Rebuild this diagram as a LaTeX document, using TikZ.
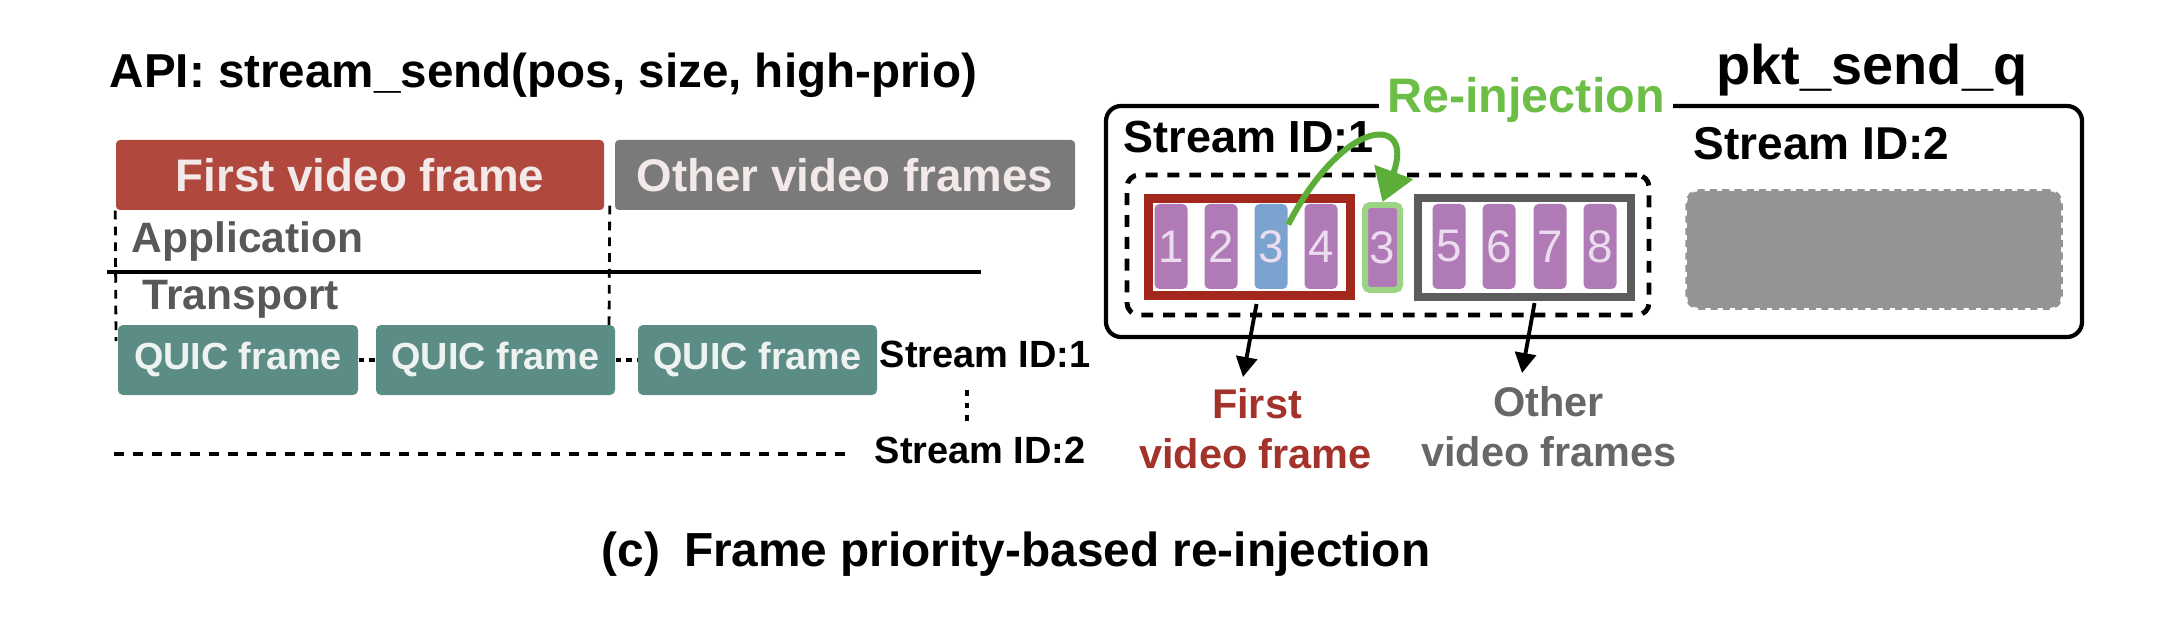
\documentclass[tikz,border=0pt]{standalone}
\usepackage{fontspec}
\setmainfont{Liberation Sans}
\usetikzlibrary{arrows.meta,calc}
\definecolor{redbox}{HTML}{B0483E}
\definecolor{graybox}{HTML}{7A7A7A}
\definecolor{boxtxt}{HTML}{F3E9E9}
\definecolor{apptxt}{HTML}{585858}
\definecolor{quic}{HTML}{5B8C86}
\definecolor{quictxt}{HTML}{EEF3F1}
\definecolor{darkred}{HTML}{A2281E}
\definecolor{darkgray}{HTML}{5C5C5C}
\definecolor{pkt}{HTML}{B07AB7}
\definecolor{pktblue}{HTML}{7BA3CF}
\definecolor{pkttxt}{HTML}{EBDDEF}
\definecolor{reinj}{HTML}{6DBE46}
\definecolor{arrowgreen}{HTML}{5DAE38}
\definecolor{lightgreen}{HTML}{9AD484}
\definecolor{blob}{HTML}{949494}
\definecolor{firstred}{HTML}{A3322A}
\definecolor{othergray}{HTML}{676767}
\newcommand{\fsz}[1]{\fontsize{#1pt}{#1pt}\selectfont}
\tikzset{
  txt/.style={inner sep=0pt, anchor=base west},
  vbox/.style={rounded corners=0.4mm, inner sep=0pt, minimum height=7mm, text=boxtxt, font=\bfseries\fsz{13}},
  qbox/.style={rounded corners=0.5mm, fill=quic, inner sep=0pt, minimum height=7mm, text=quictxt, font=\bfseries\fsz{10.75}},
  lay/.style={txt, text=apptxt, font=\bfseries\fsz{12.1}},
  vdash/.style={line width=0.8pt, dash pattern=on 2.5pt off 2pt},
  qdot/.style={line width=1.1pt, dash pattern=on 1.5pt off 1.5pt},
  sdot/.style={line width=1.1pt, dash pattern=on 2.8pt off 2.6pt},
  pktn/.style={fill=pkt, rounded corners=0.5mm, minimum width=3.3mm, minimum height=8.5mm, inner sep=0pt, text=pkttxt, font=\fsz{13}},
  lbl/.style={inner sep=0pt, anchor=base, font=\bfseries\fsz{11.8}},
  blk/.style={line width=1.1pt, -{Triangle[length=2mm,width=2.1mm]}},
}
\begin{document}
\begin{tikzpicture}[x=0.1mm,y=-0.1mm]
\useasboundingbox (0,0) rectangle (2170,632);
% ---------- left part
\node[txt, font=\bfseries\fsz{13.54}] (api) at (109,88) {API: stream\_send(pos, size, high-prio)};
\node[vbox, fill=redbox, minimum width=48.8mm] (fvf) at (360,175) {First video frame};
\node[vbox, fill=graybox, minimum width=46mm] (ovf) at (845,175) {Other video frames};
\coordinate (dl) at (116,341);
\coordinate (dr) at (609,333);
\draw[vdash] (fvf.south west) -- (dl);
\draw[vdash] ($(fvf.south east)+(5,-5)$) -- (dr);
\node[lay] (app) at (131,253) {Application};
\coordinate (hl) at (107,272);
\coordinate (hr) at (981,272);
\draw[line width=1.2pt] (hl) -- (hr);
\node[lay] (tra) at (142,310) {Transport};
\node[qbox, minimum width=24mm] (q1) at (238,360) {QUIC frame};
\node[qbox, minimum width=23.9mm] (q2) at (495.5,360) {QUIC frame};
\node[qbox, minimum width=23.9mm] (q3) at (757.5,360) {QUIC frame};
\draw[qdot] (q1) -- (q2);
\draw[qdot] (q2) -- (q3);
\node[txt, font=\bfseries\fsz{10.8}] (s1) at (879,368) {Stream ID:1};
\coordinate (vd1) at (967,390);
\coordinate (vd2) at (967,424);
\draw[line width=1.1pt, dash pattern=on 1.6pt off 2pt] (vd1) -- (vd2);
\node[txt, font=\bfseries\fsz{10.8}] (s2) at (874,463) {Stream ID:2};
\coordinate (sl) at (114,454);
\coordinate (sr) at (846,454);
\draw[sdot] (sl) -- (sr);
% ---------- right part
\node[draw, line width=1.2pt, rounded corners=1.5mm, minimum width=97.6mm, minimum height=23.1mm, inner sep=0pt] (queue) at (1594,221.5) {};
\node[inner sep=0.8mm, fill=white, anchor=base, text=reinj, font=\bfseries\fsz{13.8}] (re) at (1526,113) {Re-injection};
\node[txt, font=\bfseries\fsz{15.9}] (psq) at (1716,85) {pkt\_send\_q};
\node[txt, font=\bfseries\fsz{12.8}] (rs1) at (1123,153) {Stream ID:1};
\node[txt, font=\bfseries\fsz{13.1}] (rs2) at (1693,160) {Stream ID:2};
\node[draw, line width=1.4pt, dash pattern=on 3.4pt off 2.8pt, rounded corners=1.2mm, minimum width=52.2mm, minimum height=14mm, inner sep=0pt] (sq1) at (1388,245) {};
\node[draw=darkred, line width=2.56pt, minimum width=20.2mm, minimum height=9.7mm, inner sep=0pt] (fr) at (1249.5,247) {};
\node[draw=darkgray, line width=2.3pt, minimum width=21.3mm, minimum height=9.9mm, inner sep=0pt] (gr) at (1524.5,247.5) {};
\node[pktn] (p1) at (1171,246.5) {1};
\node[pktn] (p2) at (1221,246.5) {2};
\node[pktn, fill=pktblue] (p3) at (1271,246.5) {3};
\node[pktn] (p4) at (1321,246.5) {4};
\node[pktn, draw=lightgreen, line width=1.7pt, minimum width=3.5mm] (r3) at (1382.5,247.5) {3};
\node[pktn] (p5) at (1449,246.5) {5};
\node[pktn] (p6) at (1499,246.5) {6};
\node[pktn] (p7) at (1550,246.5) {7};
\node[pktn] (p8) at (1600,246.5) {8};
\node[fill=blob, draw=blob, line width=1pt, dash pattern=on 2pt off 1.5pt, rounded corners=1.2mm, minimum width=37.4mm, minimum height=11.7mm, inner sep=0pt] (s2q) at (1874,249.5) {};
\draw[arrowgreen, line width=1.7pt, -{Triangle[length=3.2mm,width=4mm]}] ($(p3.east)+(0,-22)$) .. controls (1345,115) and (1415,115) .. (r3.north);
% ---------- arrows and labels below
\coordinate (a1) at (1243,377);
\coordinate (a2) at (1522,373);
\draw[blk] ($(fr.south)+(7,4)$) -- (a1);
\draw[blk] ($(gr.south)+(10,2)$) -- (a2);
\node[lbl, text=firstred] (fl1) at (1257,418) {First};
\node[lbl, text=firstred] (fl2) at (1255.5,468) {video frame};
\node[lbl, text=othergray] (ol1) at (1548.5,416) {Other};
\node[lbl, text=othergray] (ol2) at (1549,466) {video frames};
% ---------- caption
\node[txt, font=\bfseries\fsz{13.6}] (cap) at (601,566) {(c)\hspace{0.5em}Frame priority-based re-injection};
\end{tikzpicture}
\end{document}
